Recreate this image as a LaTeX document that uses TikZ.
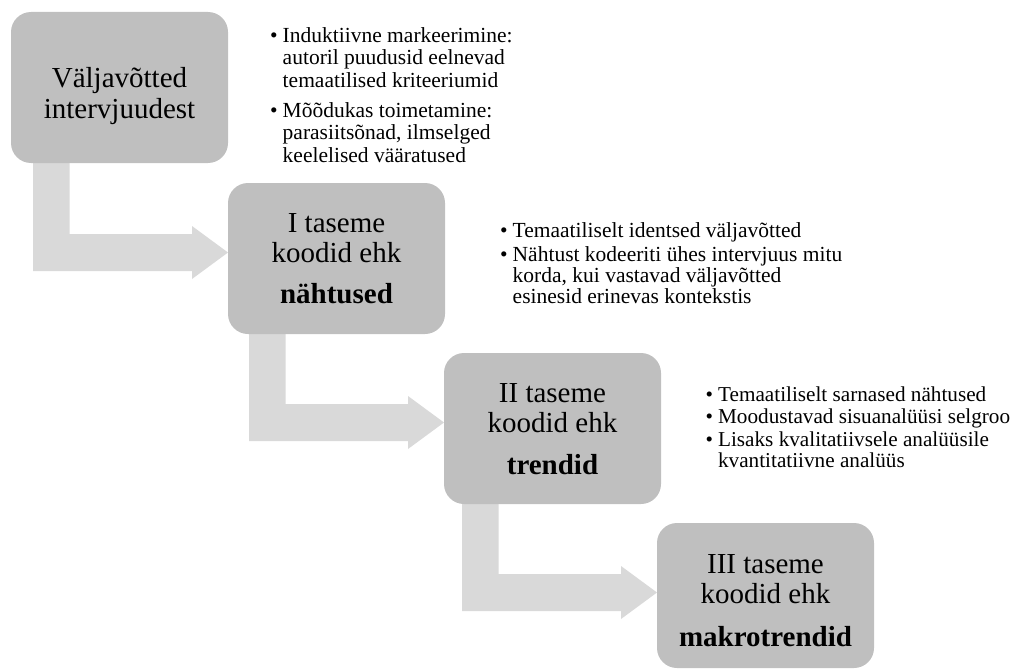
\documentclass[tikz,border=0pt]{standalone}
\usepackage{fontspec}
\setmainfont{Liberation Serif}
\usetikzlibrary{calc,backgrounds}
\definecolor{boxgray}{HTML}{BFBFBF}
\definecolor{flowgray}{HTML}{D9D9D9}

% Bent block arrow from the bottom of stage #1 into the left side of stage #2;
% #3 is the horizontal offset of the stem from the left edge of stage #1.
\newcommand{\bentflow}[3]{%
  \fill[flow] ($(#1.south west)+(#3,-10)$) -- ($(#1.south west)+(#3+36.5,-10)$)
    |- ($(#2.north west)+(-36,51)$) -- ($(#2.north west)+(-36,43)$)
    -- ($(#2.north west)+(0,69.5)$) -- ($(#2.north west)+(-36,96)$)
    -- ($(#2.north west)+(-36,88)$) -| ($(#1.south west)+(#3,-10)$) -- cycle;}

\begin{document}
\begin{tikzpicture}[x=1pt,y=-1pt,
  stage/.style={fill=boxgray, draw=none, rounded corners=20pt,
    minimum width=217pt, minimum height=151pt,
    inner sep=0pt, outer sep=0pt, anchor=north west},
  stagetext/.style={anchor=base, inner sep=0pt,
    font=\fontsize{29}{30}\selectfont},
  notes/.style={anchor=base west, inner sep=0pt,
    font=\fontsize{21.5}{22.5}\selectfont},
  flow/.style={fill=flowgray}]

\useasboundingbox (0,0) rectangle (1019,669);

% stages
\node[stage] (b1) at (11,12) {};
\node[stage] (b2) at (228,183) {};
\node[stage] (b3) at (444,353) {};
\node[stage, minimum height=145pt] (b4) at (657,523) {};

% stage labels
\node[stagetext] (t1) at ($(b1.north)+(0,75.5)$)
  {\begin{tabular}[t]{@{}c@{}}Väljavõtted\\[0.5pt] intervjuudest\end{tabular}};
\node[stagetext] (t2) at ($(b2.north)+(0,49)$)
  {\begin{tabular}[t]{@{}c@{}}I taseme\\ koodid ehk\\[11pt] \textbf{nähtused}\end{tabular}};
\node[stagetext] (t3) at ($(b3.north)+(0,49)$)
  {\begin{tabular}[t]{@{}c@{}}II taseme\\ koodid ehk\\[12pt] \textbf{trendid}\end{tabular}};
\node[stagetext] (t4) at ($(b4.north)+(0,50)$)
  {\begin{tabular}[t]{@{}c@{}}III taseme\\ koodid ehk\\[13pt] \textbf{makrotrendid}\end{tabular}};

% connectors between stages
\begin{scope}[on background layer]
  \bentflow{b1}{b2}{22}
  \bentflow{b2}{b3}{21}
  \bentflow{b3}{b4}{18}
\end{scope}

% notes beside the stages
\node[notes] (n1) at (270,42) {\begin{tabular}[t]{@{}l@{\hspace{5pt}}l@{}}
  \textbullet & Induktiivne markeerimine:\\
   & autoril puudusid eelnevad\\
   & temaatilised kriteeriumid\\[7.5pt]
  \textbullet & Mõõdukas toimetamine:\\
   & parasiitsõnad, ilmselged\\
   & keelelised vääratused
\end{tabular}};

\node[notes, font=\fontsize{21.5}{21}\selectfont] (n2) at (500,237)
 {\begin{tabular}[t]{@{}l@{\hspace{5pt}}l@{}}
  \textbullet & Temaatiliselt identsed väljavõtted\\[3pt]
  \textbullet & Nähtust kodeeriti ühes intervjuus mitu\\
   & korda, kui vastavad väljavõtted\\
   & esinesid erinevas kontekstis
\end{tabular}};

\node[notes, font=\fontsize{21.2}{20}\selectfont] (n3) at (705.5,401)
 {\begin{tabular}[t]{@{}l@{\hspace{5pt}}l@{}}
  \textbullet & Temaatiliselt sarnased nähtused\\[2pt]
  \textbullet & Moodustavad sisuanalüüsi selgroo\\[2pt]
  \textbullet & Lisaks kvalitatiivsele analüüsile\\
   & kvantitatiivne analüüs
\end{tabular}};
\end{tikzpicture}
\end{document}
